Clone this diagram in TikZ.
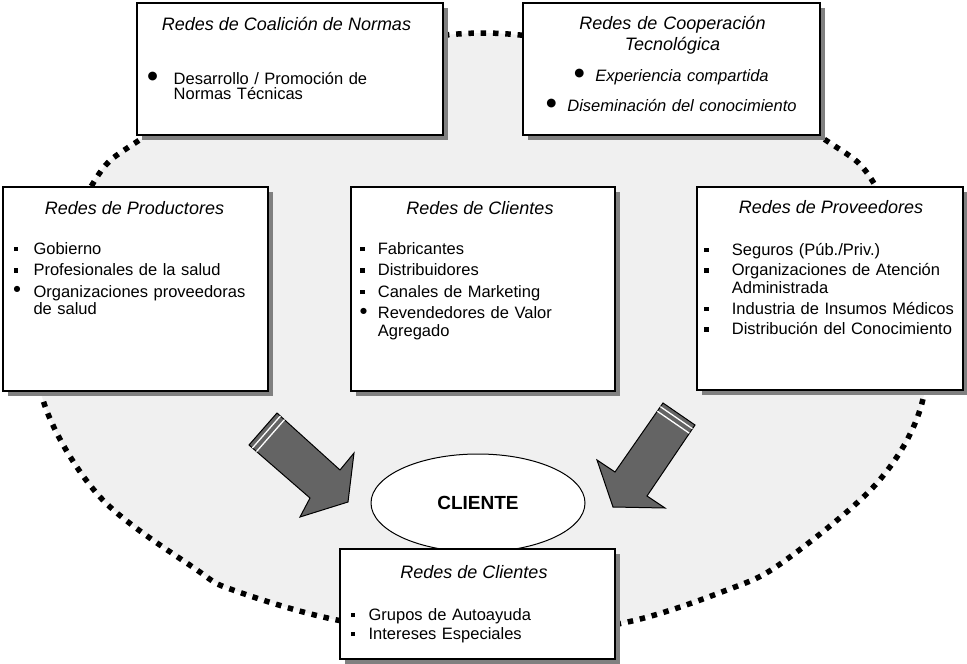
\documentclass[tikz,border=0pt]{standalone}
\usepackage{fontspec}
\setmainfont{Liberation Sans}
\newfontfamily\symf{DejaVu Sans}
\usetikzlibrary{shapes.geometric,shadows}
\definecolor{ringgray}{RGB}{240,240,240}
\definecolor{arrowgray}{RGB}{100,100,100}
\definecolor{shadowgray}{RGB}{128,128,128}
\newlength{\itind}
\newcommand{\mylistsetup}[2]{\setlength{\itind}{#1}\setlength{\parskip}{#2}}
\newcommand{\sqbul}{\rule[3pt]{4.5pt}{4.5pt}}
\newcommand{\rdbul}{\raisebox{\dimexpr7.5pt-(\height-\depth)/2\relax}{\symf\fontsize{8}{8}\selectfont ●}}
\newcommand{\bigbul}{\raisebox{\dimexpr7.8pt-(\height-\depth)/2\relax}{\symf\fontsize{11.5}{11.5}\selectfont ●}}
\newcommand{\itm}[2]{\noindent\hangindent=\itind\hangafter=1\makebox[\itind][l]{#1}#2\par}
\begin{document}
\begin{tikzpicture}[x=1pt,y=-1pt,
  netbox/.style={draw=black, line width=1.5pt, fill=white, rectangle, inner sep=0pt,
    drop shadow={shadow xshift=5pt, shadow yshift=-5pt, fill=shadowgray, opacity=1}},
  ttl/.style={font=\fontsize{18}{21.4}\selectfont\itshape, inner sep=0pt, anchor=base},
  lst/.style={font=\fontsize{16.5}{17.5}\selectfont, inner sep=0pt, anchor=base west, text width=#1, align=left},
  ringline/.style={line width=5.5pt, dash pattern=on 5.5pt off 6.8pt, fill=ringgray},
  blockarrow/.style={fill=arrowgray, draw=black, line width=1pt, line join=miter},
  stripe/.style={draw=white, line width=1.3pt}
]
\fill[white] (0,0) rectangle (967,664);
\useasboundingbox (0,0) rectangle (967,664);

% big dotted ring
\draw[ringline] plot[smooth cycle, tension=0.55] coordinates {
  (483,33) (706,75) (830,143) (875,185) (926,300) (922,403) (877,483)
  (783,562) (727,590) (623,623) (483,640) (337,620) (233,590) (197,570)
  (100,497) (43,400) (40,300) (92,185) (135,143) (260,75)};

% boxes
\node[netbox, minimum width=306pt, minimum height=132pt] (tl) at (290,69) {};
\node[netbox, minimum width=297pt, minimum height=132pt] (tr) at (671.5,69) {};
\node[netbox, minimum width=265pt, minimum height=204pt] (lb) at (135.5,289) {};
\node[netbox, minimum width=264pt, minimum height=204pt] (mb) at (483,289) {};
\node[netbox, minimum width=266pt, minimum height=203pt] (rb) at (830,288.5) {};

% top-left texts
\node[ttl] (tlt) at (286.5,30) {Redes de Coalición de Normas};
\node[lst=290pt, font=\fontsize{16.5}{15.3}\selectfont] (tll) at (147.5,84) {\mylistsetup{26pt}{0pt}%
\itm{\bigbul}{Desarrollo / Promoción de\newline Normas Técnicas}};

% top-right texts
\node[ttl, text width=290pt, align=center] (trt) at (672.5,29.3) {Redes de Cooperación\\Tecnológica};
\node[inner sep=0pt, anchor=base, text width=290pt, align=center, font=\fontsize{16.5}{30}\selectfont\itshape] (trl) at (671.5,81.7)
  {\bigbul\ \ Experiencia compartida\\\bigbul\ \ Diseminación del conocimiento};

% left box
\node[ttl] (lbt) at (134.5,214) {Redes de Productores};
\node[lst=250pt] (lbl) at (13.3,254) {\mylistsetup{20pt}{4pt}%
\itm{\sqbul}{Gobierno}%
\itm{\sqbul}{Profesionales de la salud}%
\itm{\rdbul}{Organizaciones proveedoras\newline de salud}};

% middle box
\node[ttl] (mbt) at (480,214) {Redes de Clientes};
\node[lst=250pt] (mbl) at (360,254) {\mylistsetup{17.7pt}{4pt}%
\itm{\sqbul}{Fabricantes}%
\itm{\sqbul}{Distribuidores}%
\itm{\sqbul}{Canales de Marketing}%
\itm{\rdbul}{Revendedores de Valor\newline Agregado}};

% right box
\node[ttl] (rbt) at (831,213.5) {Redes de Proveedores};
\node[lst=255pt] (rbl) at (704,255) {\mylistsetup{27.7pt}{3.3pt}%
\itm{\sqbul}{Seguros (Púb./Priv.)}%
\itm{\sqbul}{Organizaciones de Atención\newline Administrada}%
\itm{\sqbul}{Industria de Insumos Médicos}%
\itm{\sqbul}{Distribución del Conocimiento}};

% block arrows
\draw[blockarrow] (277,413) -- (340,470) -- (354,453) -- (348,502) -- (300,517) -- (310,498) -- (249,445) -- cycle;
\draw[stripe] (280.4,416) -- (252.4,448);
\draw[stripe] (284.5,419.6) -- (256.5,451.6);
\draw[blockarrow] (663,403) -- (615,472) -- (597,460) -- (613,507) -- (665,508) -- (647,496) -- (695,425) -- cycle;
\draw[stripe] (660.4,406.7) -- (692.4,428.7);
\draw[stripe] (657.3,411.2) -- (689.3,433.2);

% client ellipse
\node[ellipse, draw=black, line width=1pt, fill=white, minimum width=214pt, minimum height=98pt, inner sep=0pt,
  font=\fontsize{19}{19}\selectfont\bfseries] (cli) at (478,503) {CLIENTE};

% bottom box
\node[netbox, minimum width=275pt, minimum height=110pt] (bb) at (477.5,604) {};
\node[ttl] (bbt) at (474,578) {Redes de Clientes};
\node[lst=250pt] (bbl) at (350.7,620) {\mylistsetup{17.7pt}{1.5pt}%
\itm{\sqbul}{Grupos de Autoayuda}%
\itm{\sqbul}{Intereses Especiales}};
\end{tikzpicture}
\end{document}
